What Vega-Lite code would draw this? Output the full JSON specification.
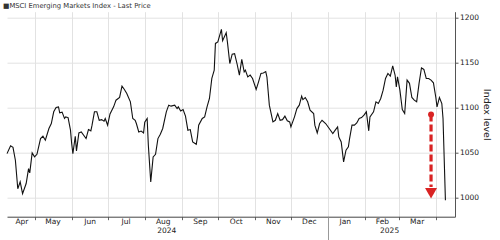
{
  "$schema": "https://vega.github.io/schema/vega-lite/v6.json",
  "width": 448,
  "height": 205,
  "autosize": "none",
  "padding": {"left": 7, "top": 11.7, "right": 45, "bottom": 23.3},
  "background": "white",
  "config": {
    "view": {"stroke": null},
    "font": "DejaVu Sans",
    "axis": {"labelFont": "DejaVu Sans", "titleFont": "DejaVu Sans", "labelFlush": false, "labelOverlap": false, "labelBound": false}
  },
  "title": {
    "text": "■MSCI Emerging Markets Index - Last Price",
    "anchor": "start",
    "frame": "group",
    "fontSize": 6.8,
    "font": "DejaVu Sans",
    "fontWeight": "normal",
    "color": "#333333",
    "offset": 2,
    "dx": -4
  },
  "datasets": {
    "msci": [
      {"d": "2024-04-08", "v": 1049},
      {"d": "2024-04-11", "v": 1057.6},
      {"d": "2024-04-13", "v": 1056},
      {"d": "2024-04-15", "v": 1041.7},
      {"d": "2024-04-17", "v": 1010},
      {"d": "2024-04-19", "v": 1017.6},
      {"d": "2024-04-21", "v": 1004.6},
      {"d": "2024-04-24", "v": 1015.8},
      {"d": "2024-04-26", "v": 1032.4},
      {"d": "2024-04-27", "v": 1027.6},
      {"d": "2024-04-29", "v": 1049.8},
      {"d": "2024-05-01", "v": 1045.4},
      {"d": "2024-05-03", "v": 1048.3},
      {"d": "2024-05-06", "v": 1065.7},
      {"d": "2024-05-08", "v": 1068.3},
      {"d": "2024-05-10", "v": 1063.9},
      {"d": "2024-05-13", "v": 1076.9},
      {"d": "2024-05-15", "v": 1082.4},
      {"d": "2024-05-17", "v": 1095.4},
      {"d": "2024-05-19", "v": 1100.2},
      {"d": "2024-05-21", "v": 1100.9},
      {"d": "2024-05-22", "v": 1094.2},
      {"d": "2024-05-24", "v": 1095},
      {"d": "2024-05-26", "v": 1088},
      {"d": "2024-05-27", "v": 1089.8},
      {"d": "2024-05-29", "v": 1089},
      {"d": "2024-05-31", "v": 1075},
      {"d": "2024-06-01", "v": 1060},
      {"d": "2024-06-02", "v": 1049},
      {"d": "2024-06-04", "v": 1068.3},
      {"d": "2024-06-05", "v": 1052},
      {"d": "2024-06-07", "v": 1072},
      {"d": "2024-06-09", "v": 1073},
      {"d": "2024-06-13", "v": 1065.7},
      {"d": "2024-06-15", "v": 1075.7},
      {"d": "2024-06-17", "v": 1074.3},
      {"d": "2024-06-18", "v": 1080.6},
      {"d": "2024-06-20", "v": 1095.4},
      {"d": "2024-06-22", "v": 1095.4},
      {"d": "2024-06-24", "v": 1086},
      {"d": "2024-06-26", "v": 1086.7},
      {"d": "2024-06-28", "v": 1085},
      {"d": "2024-06-29", "v": 1088},
      {"d": "2024-07-01", "v": 1080.6},
      {"d": "2024-07-03", "v": 1093},
      {"d": "2024-07-06", "v": 1100.9},
      {"d": "2024-07-08", "v": 1108.3},
      {"d": "2024-07-11", "v": 1111.3},
      {"d": "2024-07-13", "v": 1123.9},
      {"d": "2024-07-15", "v": 1120.2},
      {"d": "2024-07-17", "v": 1115.8},
      {"d": "2024-07-20", "v": 1106.5},
      {"d": "2024-07-22", "v": 1088},
      {"d": "2024-07-24", "v": 1086},
      {"d": "2024-07-25", "v": 1082.4},
      {"d": "2024-07-27", "v": 1073},
      {"d": "2024-07-29", "v": 1074},
      {"d": "2024-07-31", "v": 1072},
      {"d": "2024-08-01", "v": 1084},
      {"d": "2024-08-03", "v": 1088},
      {"d": "2024-08-04", "v": 1058.3},
      {"d": "2024-08-06", "v": 1017.6},
      {"d": "2024-08-08", "v": 1045.4},
      {"d": "2024-08-10", "v": 1048.3},
      {"d": "2024-08-12", "v": 1065.7},
      {"d": "2024-08-14", "v": 1070.6},
      {"d": "2024-08-16", "v": 1076.9},
      {"d": "2024-08-19", "v": 1095.4},
      {"d": "2024-08-21", "v": 1102.8},
      {"d": "2024-08-23", "v": 1101.7},
      {"d": "2024-08-26", "v": 1102.8},
      {"d": "2024-08-28", "v": 1099},
      {"d": "2024-08-29", "v": 1100.9},
      {"d": "2024-08-31", "v": 1096.3},
      {"d": "2024-09-02", "v": 1098},
      {"d": "2024-09-04", "v": 1090.6},
      {"d": "2024-09-06", "v": 1075},
      {"d": "2024-09-08", "v": 1075.7},
      {"d": "2024-09-10", "v": 1062},
      {"d": "2024-09-13", "v": 1059.4},
      {"d": "2024-09-14", "v": 1067.5},
      {"d": "2024-09-15", "v": 1080.6},
      {"d": "2024-09-18", "v": 1088},
      {"d": "2024-09-20", "v": 1089.8},
      {"d": "2024-09-22", "v": 1100.9},
      {"d": "2024-09-24", "v": 1110.2},
      {"d": "2024-09-26", "v": 1132.4},
      {"d": "2024-09-28", "v": 1141.7},
      {"d": "2024-09-29", "v": 1171.3},
      {"d": "2024-10-01", "v": 1173},
      {"d": "2024-10-04", "v": 1186.9},
      {"d": "2024-10-05", "v": 1174.3},
      {"d": "2024-10-08", "v": 1183.1},
      {"d": "2024-10-09", "v": 1173},
      {"d": "2024-10-11", "v": 1149},
      {"d": "2024-10-13", "v": 1159.4},
      {"d": "2024-10-15", "v": 1160},
      {"d": "2024-10-17", "v": 1149},
      {"d": "2024-10-19", "v": 1136.1},
      {"d": "2024-10-21", "v": 1153.5},
      {"d": "2024-10-23", "v": 1139.8},
      {"d": "2024-10-24", "v": 1141.7},
      {"d": "2024-10-26", "v": 1134.2},
      {"d": "2024-10-28", "v": 1136.1},
      {"d": "2024-10-30", "v": 1132.4},
      {"d": "2024-11-02", "v": 1120.2},
      {"d": "2024-11-04", "v": 1128.7},
      {"d": "2024-11-06", "v": 1138},
      {"d": "2024-11-08", "v": 1138.5},
      {"d": "2024-11-10", "v": 1140},
      {"d": "2024-11-11", "v": 1134},
      {"d": "2024-11-13", "v": 1102.8},
      {"d": "2024-11-16", "v": 1084.2},
      {"d": "2024-11-18", "v": 1086},
      {"d": "2024-11-20", "v": 1093.5},
      {"d": "2024-11-22", "v": 1086},
      {"d": "2024-11-24", "v": 1086.7},
      {"d": "2024-11-26", "v": 1090.6},
      {"d": "2024-11-28", "v": 1085.4},
      {"d": "2024-11-30", "v": 1084.2},
      {"d": "2024-12-01", "v": 1078.7},
      {"d": "2024-12-04", "v": 1089.8},
      {"d": "2024-12-06", "v": 1099},
      {"d": "2024-12-08", "v": 1102.8},
      {"d": "2024-12-10", "v": 1112.8},
      {"d": "2024-12-11", "v": 1109},
      {"d": "2024-12-13", "v": 1111.3},
      {"d": "2024-12-15", "v": 1106.5},
      {"d": "2024-12-17", "v": 1097.2},
      {"d": "2024-12-20", "v": 1093.5},
      {"d": "2024-12-21", "v": 1080.6},
      {"d": "2024-12-23", "v": 1072},
      {"d": "2024-12-25", "v": 1082.4},
      {"d": "2024-12-27", "v": 1086},
      {"d": "2024-12-30", "v": 1082.4},
      {"d": "2025-01-02", "v": 1076.9},
      {"d": "2025-01-05", "v": 1071.3},
      {"d": "2025-01-07", "v": 1075},
      {"d": "2025-01-09", "v": 1078.7},
      {"d": "2025-01-10", "v": 1067.6},
      {"d": "2025-01-12", "v": 1062},
      {"d": "2025-01-14", "v": 1039.8},
      {"d": "2025-01-16", "v": 1052.8},
      {"d": "2025-01-18", "v": 1056.5},
      {"d": "2025-01-19", "v": 1065.7},
      {"d": "2025-01-21", "v": 1080.6},
      {"d": "2025-01-23", "v": 1080.6},
      {"d": "2025-01-25", "v": 1083},
      {"d": "2025-01-27", "v": 1088},
      {"d": "2025-01-29", "v": 1089},
      {"d": "2025-01-31", "v": 1091.7},
      {"d": "2025-02-02", "v": 1095.4},
      {"d": "2025-02-04", "v": 1074.3},
      {"d": "2025-02-05", "v": 1089.8},
      {"d": "2025-02-08", "v": 1095.4},
      {"d": "2025-02-10", "v": 1106.5},
      {"d": "2025-02-12", "v": 1104.6},
      {"d": "2025-02-14", "v": 1110.2},
      {"d": "2025-02-16", "v": 1119.4},
      {"d": "2025-02-18", "v": 1132.4},
      {"d": "2025-02-20", "v": 1138},
      {"d": "2025-02-22", "v": 1135},
      {"d": "2025-02-24", "v": 1146.5},
      {"d": "2025-02-26", "v": 1136},
      {"d": "2025-02-27", "v": 1123},
      {"d": "2025-02-28", "v": 1134.2},
      {"d": "2025-03-02", "v": 1119.4},
      {"d": "2025-03-04", "v": 1098},
      {"d": "2025-03-06", "v": 1093.5},
      {"d": "2025-03-08", "v": 1130.6},
      {"d": "2025-03-10", "v": 1127},
      {"d": "2025-03-12", "v": 1111.3},
      {"d": "2025-03-14", "v": 1108.3},
      {"d": "2025-03-16", "v": 1106.5},
      {"d": "2025-03-18", "v": 1126.9},
      {"d": "2025-03-20", "v": 1144.2},
      {"d": "2025-03-22", "v": 1142.4},
      {"d": "2025-03-24", "v": 1132.4},
      {"d": "2025-03-26", "v": 1132.4},
      {"d": "2025-03-28", "v": 1130.6},
      {"d": "2025-03-30", "v": 1127.6},
      {"d": "2025-04-01", "v": 1111.3},
      {"d": "2025-04-02", "v": 1100.9},
      {"d": "2025-04-04", "v": 1111.3},
      {"d": "2025-04-06", "v": 1104.6},
      {"d": "2025-04-07", "v": 1088},
      {"d": "2025-04-09", "v": 997.2}
    ],
    "arrow": [
      {"d": "2025-03-28", "top": 1092.5, "bottom": 1012, "head": 1005}
    ]
  },
  "resolve": {"axis": {"x": "independent", "y": "independent"}},
  "layer": [
    {
      "data": {"name": "msci"},
      "mark": {"type": "line", "color": "#111111", "strokeWidth": 1.1, "interpolate": "linear"},
      "encoding": {
        "x": {
          "field": "d", "type": "temporal",
          "scale": {"type": "utc", "domain": [{"year": 2024, "month": 4, "date": 8, "utc": true}, {"year": 2025, "month": 4, "date": 17, "utc": true}]},
          "axis": {
            "orient": "bottom",
            "title": null,
            "labels": false,
            "values": [
              {"year": 2024, "month": 5, "date": 1, "utc": true},
              {"year": 2024, "month": 6, "date": 1, "utc": true},
              {"year": 2024, "month": 7, "date": 1, "utc": true},
              {"year": 2024, "month": 8, "date": 1, "utc": true},
              {"year": 2024, "month": 9, "date": 1, "utc": true},
              {"year": 2024, "month": 10, "date": 1, "utc": true},
              {"year": 2024, "month": 11, "date": 1, "utc": true},
              {"year": 2024, "month": 12, "date": 1, "utc": true},
              {"year": 2025, "month": 1, "date": 1, "utc": true},
              {"year": 2025, "month": 2, "date": 1, "utc": true},
              {"year": 2025, "month": 3, "date": 1, "utc": true},
              {"year": 2025, "month": 4, "date": 1, "utc": true}
            ],
            "grid": true, "gridColor": "#e2e2e2", "gridWidth": 1,
            "ticks": true, "tickSize": 3, "tickColor": "#666666",
            "domain": true, "domainColor": "#444444", "domainWidth": 1
          }
        },
        "y": {
          "field": "v", "type": "quantitative",
          "scale": {"domain": [979, 1206.5], "zero": false, "nice": false},
          "axis": {
            "orient": "right",
            "values": [1000, 1050, 1100, 1150, 1200],
            "format": "d",
            "grid": true, "gridColor": "#e2e2e2",
            "tickSize": 3, "tickColor": "#555555",
            "domainColor": "#555555",
            "labelFontSize": 7.5, "labelColor": "#222222", "labelPadding": 1.5,
            "title": "Index level", "titleFontSize": 9.5, "titleFontWeight": "normal",
            "titleColor": "#222222", "titlePadding": 3
          }
        }
      }
    },
    {
      "data": {"name": "arrow"},
      "mark": {"type": "rule", "color": "#d92323", "strokeWidth": 3.2, "strokeDash": [7, 3]},
      "encoding": {
        "x": {
          "field": "d", "type": "temporal",
          "scale": {"type": "utc", "domain": [{"year": 2024, "month": 4, "date": 8, "utc": true}, {"year": 2025, "month": 4, "date": 17, "utc": true}]},
          "axis": {
            "orient": "bottom",
            "title": null, "format": "%b", "grid": false, "ticks": false, "domain": false,
            "labelFontSize": 7.5, "labelColor": "#222222", "labelPadding": 1,
            "values": [
              {"year": 2024, "month": 4, "date": 20, "utc": true},
              {"year": 2024, "month": 5, "date": 16, "utc": true},
              {"year": 2024, "month": 6, "date": 16, "utc": true},
              {"year": 2024, "month": 7, "date": 16, "utc": true},
              {"year": 2024, "month": 8, "date": 16, "utc": true},
              {"year": 2024, "month": 9, "date": 16, "utc": true},
              {"year": 2024, "month": 10, "date": 16, "utc": true},
              {"year": 2024, "month": 11, "date": 16, "utc": true},
              {"year": 2024, "month": 12, "date": 16, "utc": true},
              {"year": 2025, "month": 1, "date": 15, "utc": true},
              {"year": 2025, "month": 2, "date": 15, "utc": true},
              {"year": 2025, "month": 3, "date": 16, "utc": true}
            ]
          }
        },
        "y": {"field": "top", "type": "quantitative", "scale": {"domain": [979, 1206.5], "zero": false, "nice": false}, "axis": null},
        "y2": {"field": "bottom"}
      }
    },
    {
      "data": {"name": "arrow"},
      "mark": {"type": "point", "shape": "circle", "filled": true, "color": "#d92323", "size": 36, "opacity": 1},
      "encoding": {
        "x": {
          "field": "d", "type": "temporal",
          "scale": {"type": "utc", "domain": [{"year": 2024, "month": 4, "date": 8, "utc": true}, {"year": 2025, "month": 4, "date": 17, "utc": true}]},
          "axis": {
            "orient": "bottom",
            "title": null, "format": "%Y", "grid": false, "ticks": false, "domain": false,
            "labelFontSize": 7.5, "labelColor": "#222222", "labelPadding": 10,
            "values": [
              {"year": 2024, "month": 8, "date": 19, "utc": true},
              {"year": 2025, "month": 2, "date": 21, "utc": true}
            ]
          }
        },
        "y": {"field": "top", "type": "quantitative", "scale": {"domain": [979, 1206.5], "zero": false, "nice": false}, "axis": null}
      }
    },
    {
      "data": {"name": "arrow"},
      "mark": {"type": "point", "shape": "triangle-down", "filled": true, "color": "#d92323", "size": 144, "opacity": 1},
      "encoding": {
        "x": {
          "field": "d", "type": "temporal",
          "scale": {"type": "utc", "domain": [{"year": 2024, "month": 4, "date": 8, "utc": true}, {"year": 2025, "month": 4, "date": 17, "utc": true}]},
          "axis": {
            "orient": "bottom",
            "title": null, "labels": false, "grid": false, "domain": false,
            "ticks": true, "tickSize": 23, "tickColor": "#999999",
            "values": [{"year": 2025, "month": 1, "date": 1, "utc": true}]
          }
        },
        "y": {"field": "head", "type": "quantitative", "scale": {"domain": [979, 1206.5], "zero": false, "nice": false}, "axis": null}
      }
    }
  ]
}
